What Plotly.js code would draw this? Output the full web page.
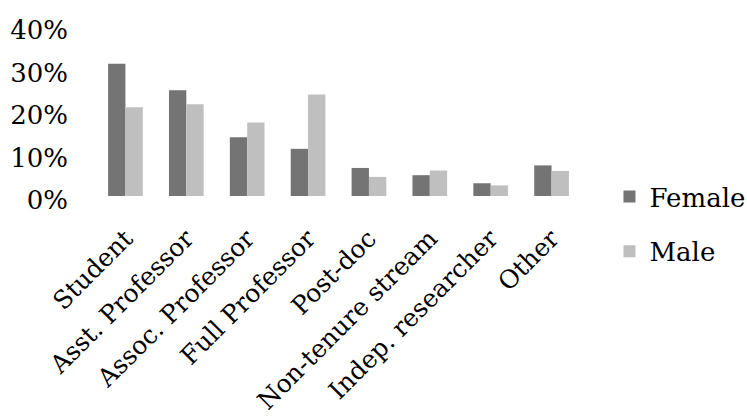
<!DOCTYPE html>
<html>
<head>
<meta charset="utf-8">
<script src="https://cdn.plot.ly/plotly-3.0.1.min.js"></script>
<style>
  html, body { margin: 0; padding: 0; background: #fff; }
  #chart { width: 747px; height: 419px; }
</style>
</head>
<body>
<div id="chart"></div>
<script>
// Career stage of respondents, share by gender (%)
const categories = ["Student", "Asst. Professor", "Assoc. Professor", "Full Professor",
                    "Post-doc", "Non-tenure stream", "Indep. researcher", "Other"];
const female = [31.1, 24.9, 13.8, 11.1, 6.6, 4.9, 3.0, 7.2];
const male   = [20.9, 21.6, 17.3, 23.9, 4.5, 6.0, 2.5, 5.9];
const yTicks = [0, 10, 20, 30, 40];
const yTickLabels = yTicks.map(v => v + "%");

const family = "DejaVu Serif, Liberation Serif, serif";
const font = { family: family, size: 26, color: "#000" };
const catFont = { family: family, size: 25, color: "#000" };

const traces = [
  { type: "bar", name: "Female", legendgroup: "f", x: categories, y: female,
    marker: { color: "#747474" }, hoverinfo: "x+y" },
  { type: "bar", name: "Male", legendgroup: "m", x: categories, y: male,
    marker: { color: "#bfbfbf" }, hoverinfo: "x+y" }
];

const layout = {
  width: 747, height: 419,
  // fixed plot box; the legend sits in the right margin without resizing it
  margin: { l: 94.5, r: 164.5, t: 26, b: 223, pad: 0, autoexpand: false },
  paper_bgcolor: "#fff", plot_bgcolor: "#fff",
  font: font,
  barmode: "group", bargap: 0.43, bargroupgap: 0,
  showlegend: true,
  legend: { x: 1.0564, xanchor: "left", y: 0.135, yanchor: "top",
            traceorder: "grouped", tracegroupgap: 18,
            font: font, bgcolor: "rgba(0,0,0,0)" },
  xaxis: { type: "category", tickangle: -45, showgrid: false, showline: false,
           zeroline: false, ticks: "", tickfont: catFont, automargin: false,
           ticklabelstandoff: 22 },
  yaxis: { range: [0, 40], tickvals: yTicks, ticktext: yTickLabels,
           showgrid: false, showline: false, zeroline: false, ticks: "",
           tickfont: font, automargin: false, ticklabelstandoff: 26,
           ticklabelshift: 4 }
};

Plotly.newPlot("chart", traces, layout, { displayModeBar: false, staticPlot: true });
</script>
</body>
</html>
